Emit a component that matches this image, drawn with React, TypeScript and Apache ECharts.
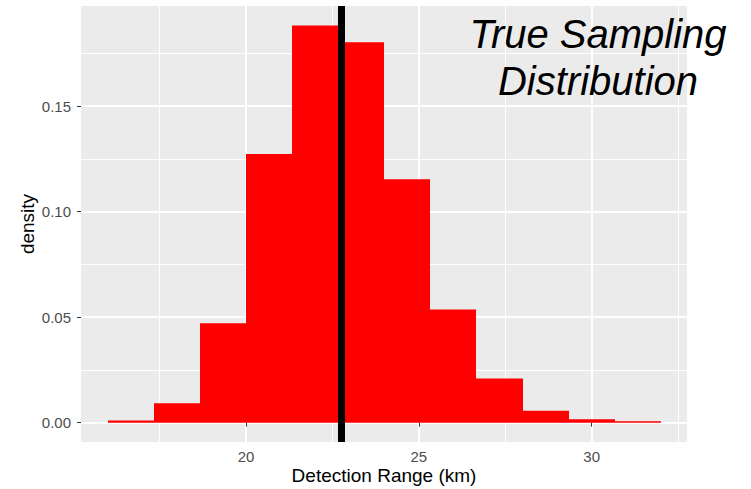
import React, { useEffect, useRef } from "react";
import * as echarts from "echarts";

// ---- data ----
const binStart = 16;
const binWidth = 4 / 3;
const densities = [0.001, 0.0092, 0.0471, 0.1273, 0.1882, 0.1803, 0.1154, 0.0537, 0.0209, 0.0057, 0.0016, 0.0007];
const meanValue = 22.75;
const xRange = [15.226, 32.757];
const yRange = [-0.00915, 0.1975];
const xMajor = [20, 25, 30];
const xMinor = [17.5, 22.5, 27.5, 32.5];
const yMajor = [0, 0.05, 0.1, 0.15];
const yMinor = [0.025, 0.075, 0.125, 0.175];
const xTitle = "Detection Range (km)";
const yTitle = "density";
const annotation = ["True Sampling", "Distribution"];

const FONT = '"Liberation Sans", Arial, sans-serif';

export default function App() {
  const ref = useRef<HTMLDivElement>(null);

  useEffect(() => {
    document.body.style.margin = "0";
    if (!ref.current) return;
    const chart = echarts.init(ref.current, null, { renderer: "svg" });

    const bins = densities.map((d, i) => [binStart + i * binWidth, binStart + (i + 1) * binWidth, d]);

    const minorAxis = (min: number, max: number, values: number[]) => ({
      type: "value",
      min,
      max,
      axisLine: { show: false },
      axisTick: { show: false, length: 0, customValues: values },
      axisLabel: { show: false, customValues: values },
      splitLine: { show: true, lineStyle: { color: "#FFFFFF", width: 1 } },
    });

    chart.setOption({
      animation: false,
      grid: {
        left: 81,
        right: 64,
        top: 6,
        bottom: 47,
        show: true,
        backgroundColor: "#EBEBEB",
        borderWidth: 0,
        containLabel: false,
        outerBoundsMode: "none",
      },
      xAxis: [
        {
          type: "value",
          min: xRange[0],
          max: xRange[1],
          position: "bottom",
          name: xTitle,
          nameLocation: "middle",
          nameGap: 24,
          nameMoveOverlap: false,
          nameTextStyle: { fontFamily: FONT, fontSize: 19, color: "#000000" },
          axisLine: { show: false },
          axisTick: { show: true, length: 4, customValues: xMajor, lineStyle: { color: "#333333", width: 1 } },
          axisLabel: { customValues: xMajor, margin: 7, fontFamily: FONT, fontSize: 15, color: "#4D4D4D" },
          splitLine: { show: true, lineStyle: { color: "#FFFFFF", width: 2 } },
        },
        { ...minorAxis(xRange[0], xRange[1], xMinor), position: "bottom" },
      ],
      yAxis: [
        {
          type: "value",
          min: yRange[0],
          max: yRange[1],
          position: "left",
          name: yTitle,
          nameLocation: "middle",
          nameGap: 44,
          nameMoveOverlap: false,
          nameRotate: 90,
          nameTextStyle: { fontFamily: FONT, fontSize: 19, color: "#000000" },
          axisLine: { show: false },
          axisTick: { show: true, length: 4, customValues: yMajor, lineStyle: { color: "#333333", width: 1 } },
          axisLabel: {
            customValues: yMajor,
            margin: 10,
            fontFamily: FONT,
            fontSize: 15,
            color: "#4D4D4D",
            formatter: (v: number) => v.toFixed(2),
          },
          splitLine: { show: true, lineStyle: { color: "#FFFFFF", width: 2 } },
        },
        { ...minorAxis(yRange[0], yRange[1], yMinor), position: "left" },
      ],
      series: [
        {
          type: "custom",
          xAxisIndex: 0,
          yAxisIndex: 0,
          data: bins,
          encode: { x: [0, 1], y: 2 },
          z: 2,
          renderItem: (params: any, api: any) => {
            const p0 = api.coord([api.value(0), api.value(2)]);
            const p1 = api.coord([api.value(1), 0]);
            const x0 = Math.round(p0[0]);
            const x1 = Math.round(p1[0]);
            return {
              type: "rect",
              shape: { x: x0, y: p0[1], width: x1 - x0, height: p1[1] - p0[1] },
              style: { fill: "#FF0000" },
            };
          },
          markLine: {
            silent: true,
            symbol: "none",
            label: { show: false },
            lineStyle: { color: "#000000", width: 7, type: "solid" },
            data: [{ xAxis: meanValue }],
          },
        },
      ],
      graphic: [
        {
          type: "text",
          x: 598,
          y: 10,
          z: 100,
          style: {
            text: annotation.join("\n"),
            font: `italic 40px ${FONT}`,
            fill: "#000000",
            align: "center",
            verticalAlign: "top",
            lineHeight: 47,
          },
        },
      ],
    });

    return () => chart.dispose();
  }, []);

  return <div ref={ref} style={{ width: 751, height: 489 }} />;
}
